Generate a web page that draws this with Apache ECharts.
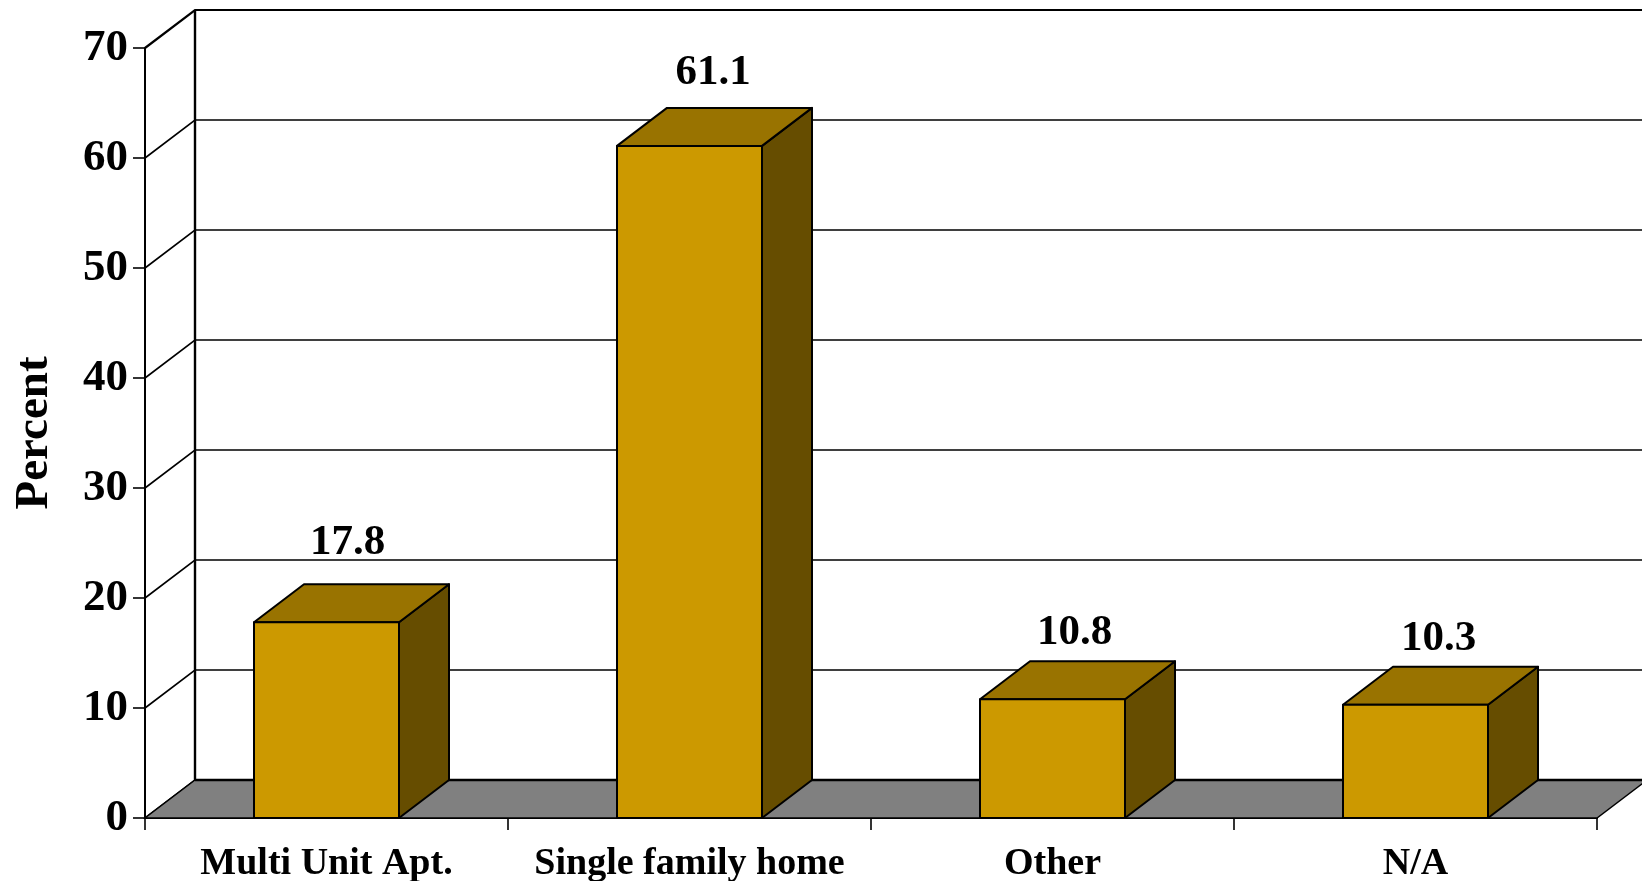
<!DOCTYPE html>
<html>
<head>
<meta charset="utf-8">
<style>html,body{margin:0;padding:0;background:#fff}#c{width:1642px;height:881px}</style>
<script src="https://cdn.jsdelivr.net/npm/echarts@6/dist/echarts.min.js"></script>
</head>
<body>
<div id="c"></div>
<script>
const categories = ['Multi Unit Apt.', 'Single family home', 'Other', 'N/A'];
const percentValues = [17.8, 61.1, 10.8, 10.3];
const percentLabels = ['17.8', '61.1', '10.8', '10.3'];
const yTicks = [0, 10, 20, 30, 40, 50, 60, 70];

const DEPTH_X = 50, DEPTH_Y = -38, BAR_RATIO = 145 / 363;
const FONT = '"Liberation Serif", "Times New Roman", serif';
const labelNudge = [[21, -79], [23.5, -73], [22, -66], [23, -66]];
const chart = echarts.init(document.getElementById('c'), null, {renderer: 'canvas'});

function renderWall(params, api) {
  const v = api.value(1);
  const cs = params.coordSys;
  const y = api.coord([0, v])[1];
  const x0 = cs.x, x1 = cs.x + cs.width;
  return {
    type: 'polyline', silent: true,
    shape: {points: [[x0, y], [x0 + DEPTH_X, y + DEPTH_Y], [x1 + DEPTH_X, y + DEPTH_Y]]},
    style: {fill: null, stroke: '#000', lineWidth: v === 70 ? 2.2 : 1.6}
  };
}
function renderFloor(params, api) {
  const cs = params.coordSys;
  const y = api.coord([0, api.value(1)])[1];
  const yTop = api.coord([0, yTicks[yTicks.length - 1]])[1];
  const x0 = cs.x, x1 = cs.x + cs.width;
  return {type: 'group', silent: true, children: [
    {type: 'polygon', shape: {points: [[x0, y], [x0 + DEPTH_X, y + DEPTH_Y], [x1 + DEPTH_X, y + DEPTH_Y], [x1, y]]},
      style: {fill: '#808080', stroke: '#000', lineWidth: 1.4}},
    {type: 'line', shape: {x1: x0 + DEPTH_X, y1: y + DEPTH_Y, x2: x1 + DEPTH_X, y2: y + DEPTH_Y},
      style: {stroke: '#000', lineWidth: 2.4}},
    {type: 'line', shape: {x1: x0 + DEPTH_X, y1: y + DEPTH_Y, x2: x0 + DEPTH_X, y2: yTop + DEPTH_Y},
      style: {stroke: '#000', lineWidth: 2.4}}
  ]};
}
function renderBar(params, api) {
  const i = api.value(0), v = api.value(1);
  const top = api.coord([i, v]);
  const base = api.coord([i, 0]);
  const w = api.size([1, 0])[0] * BAR_RATIO;
  const l = top[0] - w / 2, r = top[0] + w / 2, t = top[1], b = base[1];
  const line = {stroke: '#000', lineWidth: 2, lineJoin: 'round'};
  const n = labelNudge[i];
  return {type: 'group', children: [
    {type: 'polygon', shape: {points: [[r, t], [r + DEPTH_X, t + DEPTH_Y], [r + DEPTH_X, b + DEPTH_Y], [r, b]]},
      style: Object.assign({fill: '#664D00'}, line)},
    {type: 'polygon', shape: {points: [[l, t], [l + DEPTH_X, t + DEPTH_Y], [r + DEPTH_X, t + DEPTH_Y], [r, t]]},
      style: Object.assign({fill: '#997300'}, line)},
    {type: 'rect', shape: {x: l, y: t, width: w, height: b - t},
      style: Object.assign({fill: '#CC9900'}, line)},
    {type: 'text', style: {text: percentLabels[i], x: top[0] + n[0], y: t + n[1],
      align: 'center', verticalAlign: 'middle', fill: '#000',
      font: 'bold 43px ' + FONT}}
  ]};
}

chart.setOption({
  animation: false,
  backgroundColor: '#fff',
  grid: {left: 145, right: 45, top: 48, bottom: 63, containLabel: false, outerBoundsMode: 'none'},
  xAxis: {
    type: 'category', data: categories, boundaryGap: true,
    axisLine: {show: true, lineStyle: {color: '#000', width: 2}},
    axisTick: {show: true, length: 12, lineStyle: {color: '#000', width: 1.6}},
    axisLabel: {margin: 27, color: '#000', fontFamily: FONT, fontWeight: 'bold', fontSize: 38, interval: 0},
    splitLine: {show: false}
  },
  yAxis: {
    type: 'value', min: 0, max: 70, interval: 10,
    name: 'Percent', nameLocation: 'middle', nameGap: 87, nameRotate: 90,
    nameTextStyle: {color: '#000', fontFamily: FONT, fontWeight: 'bold', fontSize: 47},
    axisLine: {show: true, lineStyle: {color: '#000', width: 2}},
    axisTick: {show: true, length: 12, lineStyle: {color: '#000', width: 1.6}},
    axisLabel: {margin: 17, color: '#000', fontFamily: FONT, fontWeight: 'bold', fontSize: 45, padding: [2, 0, 0, 0]},
    splitLine: {show: false}
  },
  series: [
    {type: 'custom', z: 1, silent: true, clip: false, renderItem: renderWall,
      data: yTicks.map(t => [0, t]), encode: {x: 0, y: 1}},
    {type: 'custom', z: 2, silent: true, clip: false, renderItem: renderFloor,
      data: [[0, yTicks[0]]], encode: {x: 0, y: 1}},
    {type: 'custom', z: 3, silent: true, clip: false, renderItem: renderBar,
      data: percentValues.map((v, i) => [i, v]), encode: {x: 0, y: 1}}
  ]
});
</script>
</body>
</html>
